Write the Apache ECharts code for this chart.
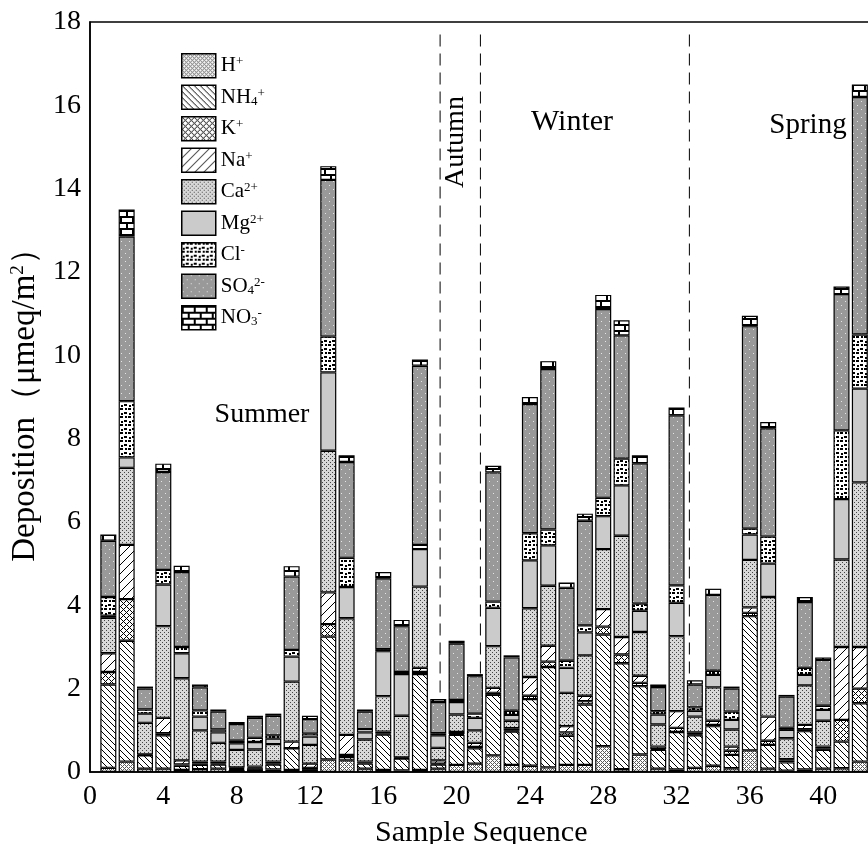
<!DOCTYPE html>
<html><head><meta charset="utf-8">
<script src="https://cdn.jsdelivr.net/npm/echarts@6/dist/echarts.min.js"></script>
<style>html,body{margin:0;padding:0;background:#fff}#c{width:868px;height:844px}</style>
</head><body><div id="c"></div>
<script>
const samples = [1,2,3,4,5,6,7,8,9,10,11,12,13,14,15,16,17,18,19,20,21,22,23,24,25,26,27,28,29,30,31,32,33,34,35,36,37,38,39,40,41,42];
const H   = [.1,.25,.08,.08,.05,.07,.08,.05,.05,.06,.05,.05,.3,.28,.08,.05,.04,.05,.08,.17,.2,.4,.17,.15,.11,.17,.17,.62,.07,.42,.08,.06,.1,.15,.09,.52,.08,.03,.06,.08,.09,.25];
const NH4 = [2.0,2.9,.32,.8,.1,.1,.1,.02,.04,.12,.52,.05,2.95,.08,.12,.85,.28,2.3,.1,.72,.37,1.45,.8,1.6,2.41,.7,1.45,2.68,2.54,1.64,.45,.9,.78,.95,.32,3.22,.57,.2,.92,.45,.64,1.4];
const K   = [.3,1.0,0,.05,.03,.03,.02,.02,.02,.02,0,0,.3,.05,.02,.02,.01,.05,.02,.02,.03,.05,.02,.08,.13,.08,.08,.19,.21,.08,.02,.1,.02,.03,.1,.08,.1,.05,.05,.04,.52,.35];
const Na  = [.45,1.3,.02,.37,.1,.05,.05,.02,.02,.05,.16,.1,.76,.48,.03,.05,.02,.1,.08,.05,.1,.12,.06,.45,.38,.15,.13,.42,.42,.17,.06,.4,.05,.1,.1,.13,.58,.03,.1,.04,1.75,1.0];
const Ca  = [.85,1.85,.76,2.2,1.97,.75,.45,.42,.41,.42,1.44,.45,3.4,2.8,.53,.85,1.0,1.95,.3,.42,.3,1.0,.18,1.65,1.44,.8,.97,1.44,2.43,1.05,.53,1.8,.38,.8,.41,1.14,2.87,.5,.95,.62,2.1,3.95];
const Mg  = [.05,.25,.22,1.0,.6,.33,.25,.16,.18,.13,.6,.2,1.88,.75,.17,1.08,1.0,.9,.3,.3,.3,.92,.14,1.15,.97,.6,.55,.79,1.21,.51,.24,.8,.14,.3,.23,.61,.8,.2,.25,.26,1.45,2.25];
const Cl  = [.45,1.35,.1,.35,.15,.15,.07,.06,.1,.08,.16,.07,.86,.7,.08,.05,.05,.1,.05,.05,.1,.15,.1,.65,.38,.17,.17,.44,.64,.17,.08,.42,.08,.1,.2,.14,.65,.05,.17,.1,1.65,1.3];
const SO4 = [1.35,3.95,.5,2.35,1.8,.55,.43,.4,.48,.47,1.76,.35,3.76,2.3,.42,1.7,1.1,4.3,.75,1.35,.9,3.1,1.28,3.1,3.85,1.75,2.51,4.53,2.96,3.37,.58,4.08,.55,1.82,.55,4.86,2.6,.75,1.58,1.1,3.27,5.7];
const NO3 = [.15,.65,.05,.2,.15,.07,.05,.05,.05,.05,.25,.08,.33,.16,.05,.15,.15,.15,.07,.07,.05,.16,.05,.17,.19,.13,.17,.34,.36,.19,.06,.19,.1,.15,.05,.25,.15,.04,.12,.06,.18,.3];
const xTicks = [0,4,8,12,16,20,24,28,32,36,40];
const axisMax = 44;
const yTicks = [0,2,4,6,8,10,12,14,16,18];
const seasonBreaks = [19.1, 21.3, 32.7];
const breakTop = 17.7;

function tile(w, h, bg, fn) {
  const c = document.createElement('canvas'); c.width = w; c.height = h;
  const g = c.getContext('2d'); g.fillStyle = bg; g.fillRect(0, 0, w, h);
  fn(g, w, h); return c;
}
function pix(g, w, h, col, test) {
  g.fillStyle = col;
  for (let y = 0; y < h; y++) for (let x = 0; x < w; x++) if (test(x, y)) g.fillRect(x, y, 1, 1);
}
const pats = {
  H: tile(4, 4, '#fff', (g,w,h) => pix(g,w,h,'#5a5a5a',(x,y)=>((x+y)%4===0)||(((x-y)%4+4)%4===0))),
  NH4: tile(6, 6, '#fff', (g,w,h) => pix(g,w,h,'#000',(x,y)=>((x-y)%6+6)%6===0)),
  K: tile(6, 6, '#fff', (g,w,h) => pix(g,w,h,'#000',(x,y)=>{const a=((x-y)%6+6)%6, b=(x+y)%6; return a===0||b===0;})),
  Na: tile(9, 9, '#fff', (g,w,h) => pix(g,w,h,'#000',(x,y)=>(x+y)%9===0)),
  Ca: tile(4, 4, '#d8d8d8', (g,w,h) => pix(g,w,h,'#444',(x,y)=>(x===0&&y===0)||(x===2&&y===2))),
  Mg: tile(2, 2, '#cbcbcb', () => {}),
  Cl: tile(8, 8, '#fff', g => { g.fillStyle='#000'; g.fillRect(0,0,3,2); g.fillRect(4,4,3,2); g.fillRect(5,0,2,2); g.fillRect(1,5,2,2); }),
  SO4: tile(8, 8, '#999999', g => { g.fillStyle='#e6e6e6'; g.fillRect(1,1,1,1); g.fillRect(5,5,1,1); }),
  NO3: tile(12, 12, '#fff', g => { g.fillStyle='#000'; g.fillRect(0,0,12,2); g.fillRect(0,6,12,2); g.fillRect(0,2,2,4); g.fillRect(6,8,2,4); })
};

const seriesDefs = [
  ['H+', H, pats.H], ['NH4+', NH4, pats.NH4], ['K+', K, pats.K], ['Na+', Na, pats.Na],
  ['Ca2+', Ca, pats.Ca], ['Mg2+', Mg, pats.Mg], ['Cl-', Cl, pats.Cl], ['SO42-', SO4, pats.SO4], ['NO3-', NO3, pats.NO3]
];
const labelMap = {
  'H+': 'H{sup|+}', 'NH4+': 'NH{sub|4}{sup|+}', 'K+': 'K{sup|+}', 'Na+': 'Na{sup|+}',
  'Ca2+': 'Ca{sup|2+}', 'Mg2+': 'Mg{sup|2+}', 'Cl-': 'Cl{sup|-}', 'SO42-': 'SO{sub|4}{sup|2-}', 'NO3-': 'NO{sub|3}{sup|-}'
};
const FONT = 'Liberation Serif';

const cats = [];
for (let i = 0; i <= axisMax; i++) cats.push(String(i));
function toCatData(vals) {
  return cats.map((c, i) => { const k = samples.indexOf(i); return k >= 0 ? vals[k] : '-'; });
}

const series = seriesDefs.map(([name, vals, pat]) => ({
  name, type: 'bar', stack: 'ions', barWidth: 16, z: 3,
  data: toCatData(vals),
  itemStyle: { color: { image: pat, repeat: 'repeat' }, borderColor: '#000', borderWidth: 1.2 },
  emphasis: { disabled: true }
}));
seasonBreaks.forEach((b, i) => series.push({
  name: 'break' + i, type: 'line', xAxisIndex: 1, z: 1, silent: true,
  symbol: 'none', data: [[b, breakTop], [b, 0]],
  lineStyle: { color: '#000', width: 1, type: [12, 7] }
}));

const chart = echarts.init(document.getElementById('c'), null, { renderer: 'canvas' });
chart.setOption({
  animation: false,
  backgroundColor: '#fff',
  grid: { left: 90, top: 22, width: 806.5, height: 750, outerBoundsMode: 'none', containLabel: false,
    show: true, borderColor: '#000', borderWidth: 1.5, backgroundColor: 'transparent' },
  legend: {
    orient: 'vertical', left: 176, top: 48, itemWidth: 34, itemHeight: 24, itemGap: 6, icon: 'rect',
    selectedMode: false,
    data: seriesDefs.map(d => d[0]),
    formatter: n => labelMap[n],
    itemStyle: { borderColor: '#000', borderWidth: 1.5 },
    textStyle: {
      fontFamily: FONT, fontSize: 21, color: '#000',
      rich: {
        sup: { fontFamily: FONT, fontSize: 13, color: '#000', verticalAlign: 'top', lineHeight: 13 },
        sub: { fontFamily: FONT, fontSize: 13, color: '#000', verticalAlign: 'bottom', lineHeight: 13 }
      }
    }
  },
  xAxis: [{
    type: 'category', data: cats, boundaryGap: false,
    axisLine: { show: true, lineStyle: { color: '#000', width: 1.5 } },
    axisTick: { show: false }, splitLine: { show: false },
    axisLabel: { fontFamily: FONT, fontSize: 28, color: '#000', margin: 11,
      interval: (idx) => xTicks.indexOf(idx) >= 0 },
    name: 'Sample Sequence', nameLocation: 'middle', nameGap: 46,
    nameTextStyle: { fontFamily: FONT, fontSize: 30, color: '#000', padding: [0, 24, 0, 0] }
  }, {
    type: 'value', min: 0, max: axisMax, show: false
  }],
  yAxis: {
    type: 'value', min: 0, max: 18, interval: 2,
    axisLine: { show: true, lineStyle: { color: '#000', width: 1.5 } },
    axisTick: { show: false }, splitLine: { show: false },
    axisLabel: { fontFamily: FONT, fontSize: 28, color: '#000', margin: 9,
      formatter: v => (yTicks.indexOf(v) >= 0 ? String(v) : '') },
    name: 'Deposition（μmeq/m{sup|2}）', nameLocation: 'middle', nameGap: 48, nameRotate: 90,
    nameTextStyle: { fontFamily: FONT, fontSize: 33, color: '#000',
      rich: { sup: { fontFamily: FONT, fontSize: 19, color: '#000', verticalAlign: 'top', lineHeight: 19 } } }
  },
  graphic: [
    { type: 'text', x: 262, y: 415, style: { text: 'Summer', fontFamily: FONT, fontSize: 28, fill: '#000', align: 'center', verticalAlign: 'middle' } },
    { type: 'text', x: 456, y: 142, rotation: Math.PI / 2, style: { text: 'Autumn', fontFamily: FONT, fontSize: 28, fill: '#000', align: 'center', verticalAlign: 'middle' } },
    { type: 'text', x: 572, y: 122, style: { text: 'Winter', fontFamily: FONT, fontSize: 30, fill: '#000', align: 'center', verticalAlign: 'middle' } },
    { type: 'text', x: 808, y: 125, style: { text: 'Spring', fontFamily: FONT, fontSize: 29, fill: '#000', align: 'center', verticalAlign: 'middle' } }
  ],
  series
});
</script></body></html>
